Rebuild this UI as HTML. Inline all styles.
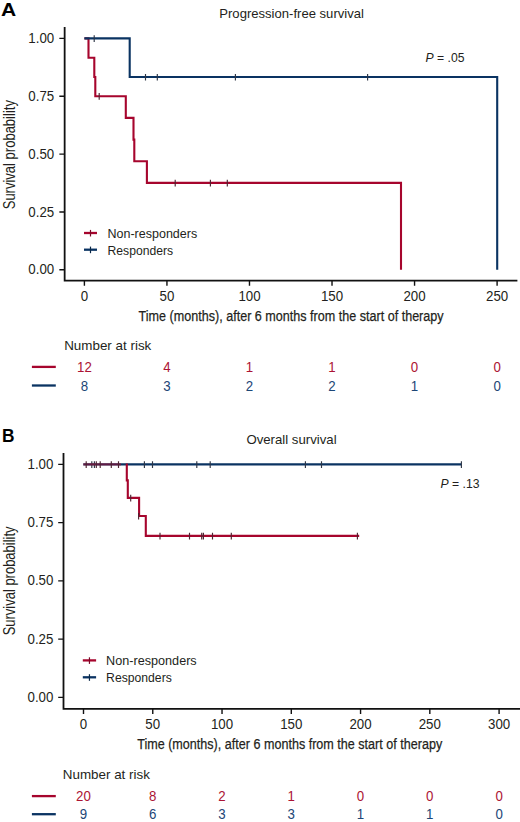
<!DOCTYPE html>
<html>
<head>
<meta charset="utf-8">
<style>
html,body{margin:0;padding:0;background:#fff;}
body{width:520px;height:822px;overflow:hidden;}
svg{display:block;}
text{font-family:"Liberation Sans",sans-serif;}
</style>
</head>
<body>
<svg width="520" height="822" viewBox="0 0 520 822">
<text x="1.00" y="16.40" font-size="17.5" fill="#000" textLength="15.20" lengthAdjust="spacingAndGlyphs" font-weight="bold">A</text>
<text x="219.30" y="17.60" font-size="12.4" fill="#231f20" textLength="144.60" lengthAdjust="spacingAndGlyphs">Progression-free survival</text>
<path d="M64.65,27.0 V280.65 H517.4" stroke="#111" stroke-width="1.8" fill="none" stroke-linecap="butt"/>
<path d="M59.35,38.40 H64.65 M59.35,96.25 H64.65 M59.35,154.10 H64.65 M59.35,211.95 H64.65 M59.35,269.80 H64.65" stroke="#111" stroke-width="1.4" fill="none"/>
<text x="54.20" y="43.00" font-size="14" text-anchor="end" fill="#231f20" textLength="25.89" lengthAdjust="spacingAndGlyphs">1.00</text>
<text x="54.20" y="100.85" font-size="14" text-anchor="end" fill="#231f20" textLength="25.89" lengthAdjust="spacingAndGlyphs">0.75</text>
<text x="54.20" y="158.70" font-size="14" text-anchor="end" fill="#231f20" textLength="25.89" lengthAdjust="spacingAndGlyphs">0.50</text>
<text x="54.20" y="216.55" font-size="14" text-anchor="end" fill="#231f20" textLength="25.89" lengthAdjust="spacingAndGlyphs">0.25</text>
<text x="54.20" y="274.40" font-size="14" text-anchor="end" fill="#231f20" textLength="25.89" lengthAdjust="spacingAndGlyphs">0.00</text>
<path d="M84.40,280.65 V285.85 M166.94,280.65 V285.85 M249.48,280.65 V285.85 M332.02,280.65 V285.85 M414.56,280.65 V285.85 M497.10,280.65 V285.85" stroke="#111" stroke-width="1.4" fill="none"/>
<text x="84.40" y="301.10" font-size="14" text-anchor="middle" fill="#231f20" textLength="7.40" lengthAdjust="spacingAndGlyphs">0</text>
<text x="166.94" y="301.10" font-size="14" text-anchor="middle" fill="#231f20" textLength="14.79" lengthAdjust="spacingAndGlyphs">50</text>
<text x="249.48" y="301.10" font-size="14" text-anchor="middle" fill="#231f20" textLength="22.19" lengthAdjust="spacingAndGlyphs">100</text>
<text x="332.02" y="301.10" font-size="14" text-anchor="middle" fill="#231f20" textLength="22.19" lengthAdjust="spacingAndGlyphs">150</text>
<text x="414.56" y="301.10" font-size="14" text-anchor="middle" fill="#231f20" textLength="22.19" lengthAdjust="spacingAndGlyphs">200</text>
<text x="497.10" y="301.10" font-size="14" text-anchor="middle" fill="#231f20" textLength="22.19" lengthAdjust="spacingAndGlyphs">250</text>
<text x="138.60" y="321.30" font-size="15.2" fill="#231f20" textLength="305.00" lengthAdjust="spacingAndGlyphs" stroke="#231f20" stroke-width="0.25">Time (months), after 6 months from the start of therapy</text>
<text transform="translate(14.6,209.3) rotate(-90)" font-size="15.8" fill="#231f20" textLength="109.2" lengthAdjust="spacingAndGlyphs">Survival probability</text>
<path d="M84.4,38.4 H88.5 V57.7 H94.3 V77.0 H95.3 V96.2 H125.8 V117.9 H133.5 V139.6 H134.3 V161.2 H146.9 V182.9 H401 V269.8" stroke="#a6052d" stroke-width="2.1" fill="none" stroke-linejoin="miter"/>
<path d="M84.4,38.4 H129.7 V77.0 H497.2 V269.8" stroke="#0a3362" stroke-width="2.1" fill="none"/>
<path d="M99.20,93.10 V99.70" stroke="#4e2432" stroke-width="1.15" fill="none"/>
<path d="M175.20,179.80 V186.40 M210.40,179.80 V186.40 M227.30,179.80 V186.40" stroke="#4e2432" stroke-width="1.15" fill="none"/>
<path d="M94.20,35.30 V41.90" stroke="#2e3646" stroke-width="1.15" fill="none"/>
<path d="M145.50,73.90 V80.50 M157.30,73.90 V80.50 M235.40,73.90 V80.50 M367.60,73.90 V80.50" stroke="#2e3646" stroke-width="1.15" fill="none"/>
<path d="M84,233.0 H97" stroke="#a6052d" stroke-width="2.3" fill="none"/>
<path d="M84,249.7 H97" stroke="#0a3362" stroke-width="2.3" fill="none"/>
<path d="M90.50,229.90 V236.50" stroke="#7a0a28" stroke-width="1.2" fill="none"/>
<path d="M90.50,246.60 V253.20" stroke="#0a2848" stroke-width="1.2" fill="none"/>
<text x="107.50" y="237.60" font-size="12.2" fill="#231f20" textLength="89.70" lengthAdjust="spacingAndGlyphs">Non-responders</text>
<text x="107.50" y="254.50" font-size="12.2" fill="#231f20" textLength="65.60" lengthAdjust="spacingAndGlyphs">Responders</text>
<text x="425.6" y="61.5" font-size="12.2" fill="#231f20"><tspan font-style="italic">P</tspan> = .05</text>
<text x="64.20" y="350.00" font-size="13" fill="#231f20" textLength="87.10" lengthAdjust="spacingAndGlyphs">Number at risk</text>
<path d="M31.9,366.9 H55.8" stroke="#a6052d" stroke-width="2.3" fill="none"/>
<path d="M31.9,385.5 H55.8" stroke="#0a3362" stroke-width="2.3" fill="none"/>
<text x="84.40" y="371.80" font-size="14" text-anchor="middle" fill="#ac1434" textLength="14.79" lengthAdjust="spacingAndGlyphs">12</text>
<text x="166.94" y="371.80" font-size="14" text-anchor="middle" fill="#ac1434" textLength="7.40" lengthAdjust="spacingAndGlyphs">4</text>
<text x="249.48" y="371.80" font-size="14" text-anchor="middle" fill="#ac1434" textLength="7.40" lengthAdjust="spacingAndGlyphs">1</text>
<text x="332.02" y="371.80" font-size="14" text-anchor="middle" fill="#ac1434" textLength="7.40" lengthAdjust="spacingAndGlyphs">1</text>
<text x="414.56" y="371.80" font-size="14" text-anchor="middle" fill="#ac1434" textLength="7.40" lengthAdjust="spacingAndGlyphs">0</text>
<text x="497.10" y="371.80" font-size="14" text-anchor="middle" fill="#ac1434" textLength="7.40" lengthAdjust="spacingAndGlyphs">0</text>
<text x="84.40" y="390.50" font-size="14" text-anchor="middle" fill="#1c4676" textLength="7.40" lengthAdjust="spacingAndGlyphs">8</text>
<text x="166.94" y="390.50" font-size="14" text-anchor="middle" fill="#1c4676" textLength="7.40" lengthAdjust="spacingAndGlyphs">3</text>
<text x="249.48" y="390.50" font-size="14" text-anchor="middle" fill="#1c4676" textLength="7.40" lengthAdjust="spacingAndGlyphs">2</text>
<text x="332.02" y="390.50" font-size="14" text-anchor="middle" fill="#1c4676" textLength="7.40" lengthAdjust="spacingAndGlyphs">2</text>
<text x="414.56" y="390.50" font-size="14" text-anchor="middle" fill="#1c4676" textLength="7.40" lengthAdjust="spacingAndGlyphs">1</text>
<text x="497.10" y="390.50" font-size="14" text-anchor="middle" fill="#1c4676" textLength="7.40" lengthAdjust="spacingAndGlyphs">0</text>
<text x="1.90" y="441.80" font-size="17.5" fill="#000" textLength="12.50" lengthAdjust="spacingAndGlyphs" font-weight="bold">B</text>
<text x="246.40" y="443.90" font-size="12.4" fill="#231f20" textLength="90.20" lengthAdjust="spacingAndGlyphs">Overall survival</text>
<path d="M63.5,453.0 V708.8 H520" stroke="#111" stroke-width="1.8" fill="none" stroke-linecap="butt"/>
<path d="M58.20,464.40 H63.50 M58.20,522.65 H63.50 M58.20,580.90 H63.50 M58.20,639.15 H63.50 M58.20,697.40 H63.50" stroke="#111" stroke-width="1.4" fill="none"/>
<text x="53.40" y="468.80" font-size="14" text-anchor="end" fill="#231f20" textLength="25.89" lengthAdjust="spacingAndGlyphs">1.00</text>
<text x="53.40" y="527.05" font-size="14" text-anchor="end" fill="#231f20" textLength="25.89" lengthAdjust="spacingAndGlyphs">0.75</text>
<text x="53.40" y="585.30" font-size="14" text-anchor="end" fill="#231f20" textLength="25.89" lengthAdjust="spacingAndGlyphs">0.50</text>
<text x="53.40" y="643.55" font-size="14" text-anchor="end" fill="#231f20" textLength="25.89" lengthAdjust="spacingAndGlyphs">0.25</text>
<text x="53.40" y="701.80" font-size="14" text-anchor="end" fill="#231f20" textLength="25.89" lengthAdjust="spacingAndGlyphs">0.00</text>
<path d="M83.50,708.8 V714.00 M152.76,708.8 V714.00 M222.03,708.8 V714.00 M291.29,708.8 V714.00 M360.56,708.8 V714.00 M429.82,708.8 V714.00 M499.09,708.8 V714.00" stroke="#111" stroke-width="1.4" fill="none"/>
<text x="83.50" y="728.90" font-size="14" text-anchor="middle" fill="#231f20" textLength="7.40" lengthAdjust="spacingAndGlyphs">0</text>
<text x="152.76" y="728.90" font-size="14" text-anchor="middle" fill="#231f20" textLength="14.79" lengthAdjust="spacingAndGlyphs">50</text>
<text x="222.03" y="728.90" font-size="14" text-anchor="middle" fill="#231f20" textLength="22.19" lengthAdjust="spacingAndGlyphs">100</text>
<text x="291.29" y="728.90" font-size="14" text-anchor="middle" fill="#231f20" textLength="22.19" lengthAdjust="spacingAndGlyphs">150</text>
<text x="360.56" y="728.90" font-size="14" text-anchor="middle" fill="#231f20" textLength="22.19" lengthAdjust="spacingAndGlyphs">200</text>
<text x="429.82" y="728.90" font-size="14" text-anchor="middle" fill="#231f20" textLength="22.19" lengthAdjust="spacingAndGlyphs">250</text>
<text x="499.09" y="728.90" font-size="14" text-anchor="middle" fill="#231f20" textLength="22.19" lengthAdjust="spacingAndGlyphs">300</text>
<text x="137.20" y="749.00" font-size="15.2" fill="#231f20" textLength="305.00" lengthAdjust="spacingAndGlyphs" stroke="#231f20" stroke-width="0.25">Time (months), after 6 months from the start of therapy</text>
<text transform="translate(14.6,635.3) rotate(-90)" font-size="15.8" fill="#231f20" textLength="108.8" lengthAdjust="spacingAndGlyphs">Survival probability</text>
<path d="M83.3,464.4 H461.4" stroke="#0a3362" stroke-width="2.1" fill="none"/>
<path d="M91.80,461.30 V467.90 M94.40,461.30 V467.90 M144.40,461.30 V467.90 M152.50,461.30 V467.90 M196.80,461.30 V467.90 M210.20,461.30 V467.90 M305.40,461.30 V467.90 M321.50,461.30 V467.90 M461.40,461.30 V467.90" stroke="#2e3646" stroke-width="1.15" fill="none"/>
<path d="M83.3,464.4 H121" stroke="#a6052d" stroke-width="2.1" fill="none" stroke-opacity="0.55"/>
<path d="M126.8,463.4 V480.4 H127.8 V497.9 H139.1 V516 H145.8 V535.9 H359.2" stroke="#a6052d" stroke-width="2.1" fill="none"/>
<path d="M86.20,461.30 V467.90 M96.30,461.30 V467.90 M100.20,461.30 V467.90 M111.30,461.30 V467.90 M118.50,461.30 V467.90" stroke="#4e2432" stroke-width="1.15" fill="none"/>
<path d="M130.70,494.80 V501.40" stroke="#4e2432" stroke-width="1.15" fill="none"/>
<path d="M138.60,512.90 V519.50" stroke="#4e2432" stroke-width="1.15" fill="none"/>
<path d="M160.00,532.80 V539.40 M189.50,532.80 V539.40 M201.70,532.80 V539.40 M203.40,532.80 V539.40 M212.50,532.80 V539.40 M231.30,532.80 V539.40 M357.40,532.80 V539.40" stroke="#4e2432" stroke-width="1.15" fill="none"/>
<path d="M82.8,660.4 H96.1" stroke="#a6052d" stroke-width="2.3" fill="none"/>
<path d="M82.8,677.3 H96.1" stroke="#0a3362" stroke-width="2.3" fill="none"/>
<path d="M89.45,657.30 V663.90" stroke="#7a0a28" stroke-width="1.2" fill="none"/>
<path d="M89.45,674.20 V680.80" stroke="#0a2848" stroke-width="1.2" fill="none"/>
<text x="106.10" y="664.90" font-size="12.2" fill="#231f20" textLength="90.60" lengthAdjust="spacingAndGlyphs">Non-responders</text>
<text x="106.10" y="681.90" font-size="12.2" fill="#231f20" textLength="65.70" lengthAdjust="spacingAndGlyphs">Responders</text>
<text x="440.6" y="487.8" font-size="12.2" fill="#231f20"><tspan font-style="italic">P</tspan> = .13</text>
<text x="62.80" y="779.20" font-size="13" fill="#231f20" textLength="87.10" lengthAdjust="spacingAndGlyphs">Number at risk</text>
<path d="M31.9,796.1 H55.8" stroke="#a6052d" stroke-width="2.3" fill="none"/>
<path d="M31.9,814.2 H55.8" stroke="#0a3362" stroke-width="2.3" fill="none"/>
<text x="83.50" y="800.80" font-size="14" text-anchor="middle" fill="#ac1434" textLength="14.79" lengthAdjust="spacingAndGlyphs">20</text>
<text x="152.76" y="800.80" font-size="14" text-anchor="middle" fill="#ac1434" textLength="7.40" lengthAdjust="spacingAndGlyphs">8</text>
<text x="222.03" y="800.80" font-size="14" text-anchor="middle" fill="#ac1434" textLength="7.40" lengthAdjust="spacingAndGlyphs">2</text>
<text x="291.29" y="800.80" font-size="14" text-anchor="middle" fill="#ac1434" textLength="7.40" lengthAdjust="spacingAndGlyphs">1</text>
<text x="360.56" y="800.80" font-size="14" text-anchor="middle" fill="#ac1434" textLength="7.40" lengthAdjust="spacingAndGlyphs">0</text>
<text x="429.82" y="800.80" font-size="14" text-anchor="middle" fill="#ac1434" textLength="7.40" lengthAdjust="spacingAndGlyphs">0</text>
<text x="499.09" y="800.80" font-size="14" text-anchor="middle" fill="#ac1434" textLength="7.40" lengthAdjust="spacingAndGlyphs">0</text>
<text x="83.50" y="818.80" font-size="14" text-anchor="middle" fill="#1c4676" textLength="7.40" lengthAdjust="spacingAndGlyphs">9</text>
<text x="152.76" y="818.80" font-size="14" text-anchor="middle" fill="#1c4676" textLength="7.40" lengthAdjust="spacingAndGlyphs">6</text>
<text x="222.03" y="818.80" font-size="14" text-anchor="middle" fill="#1c4676" textLength="7.40" lengthAdjust="spacingAndGlyphs">3</text>
<text x="291.29" y="818.80" font-size="14" text-anchor="middle" fill="#1c4676" textLength="7.40" lengthAdjust="spacingAndGlyphs">3</text>
<text x="360.56" y="818.80" font-size="14" text-anchor="middle" fill="#1c4676" textLength="7.40" lengthAdjust="spacingAndGlyphs">1</text>
<text x="429.82" y="818.80" font-size="14" text-anchor="middle" fill="#1c4676" textLength="7.40" lengthAdjust="spacingAndGlyphs">1</text>
<text x="499.09" y="818.80" font-size="14" text-anchor="middle" fill="#1c4676" textLength="7.40" lengthAdjust="spacingAndGlyphs">0</text>
</svg>
</body>
</html>
